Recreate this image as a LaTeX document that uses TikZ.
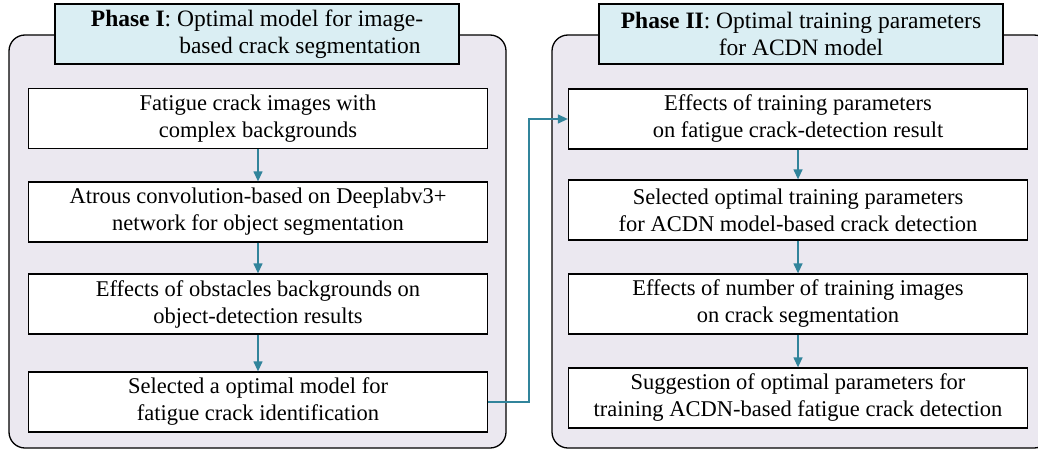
\documentclass[tikz,border=0pt]{standalone}
\usepackage{fontspec}
\setmainfont{Liberation Serif}
\usetikzlibrary{arrows.meta}
\definecolor{panelfill}{HTML}{EBE8F0}
\definecolor{titlefill}{HTML}{DAEEF3}
\definecolor{flowteal}{HTML}{31849B}

\begin{document}
\begin{tikzpicture}[x=1pt,y=-1pt,>={Triangle[length=10pt,width=9pt]},
  panel/.style={draw,line width=1.3pt,rounded corners=16pt,fill=panelfill},
  phasetitle/.style={draw,line width=1.3pt,fill=titlefill,minimum width=404pt,
    minimum height=60pt,align=center,font=\fontsize{23.5}{27}\selectfont},
  stage/.style={draw,line width=1.3pt,fill=white,minimum width=459pt,
    minimum height=60pt,align=center,font=\fontsize{22.5}{27}\selectfont},
  flow/.style={->,flowteal,line width=1.3pt}]
  \useasboundingbox (0,0) rectangle (1038,452);
  % phase I: model selection
  \begin{scope}
    \draw[panel] (9,35) rectangle (506,448);
    \node[phasetitle] (t1) at (257,34)
      {\textbf{Phase I}: Optimal model for image-\\\hspace*{86pt}based crack segmentation};
    \node[stage] (a1) at (258,118.5) {Fatigue crack images with\\complex backgrounds};
    \node[stage] (a2) at (258,212) {Atrous convolution-based on Deeplabv3+\\network for object segmentation};
    \node[stage] (a3) at (258,304) {Effects of obstacles backgrounds on\\object-detection results};
    \node[stage] (a4) at (258,402) {Selected a optimal model for\\fatigue crack identification};
    \foreach \u/\v in {a1/a2,a2/a3,a3/a4}
      \draw[flow] (\u) -- (\v);
  \end{scope}
  % phase II: training parameters
  \begin{scope}
    \draw[panel] (552,35) rectangle (1050,448);
    \node[phasetitle] (t2) at (801,34)
      {\textbf{Phase II}: Optimal training parameters\\for ACDN model};
    \node[stage] (b1) at (798,119) {Effects of training parameters\\on fatigue crack-detection result};
    \node[stage] (b2) at (798,210) {Selected optimal training parameters\\for ACDN model-based crack detection};
    \node[stage] (b3) at (798,304) {Effects of number of training images\\on crack segmentation};
    \node[stage] (b4) at (798,398) {Suggestion of optimal parameters for\\training ACDN-based fatigue crack detection};
    \foreach \u/\v in {b1/b2,b2/b3,b3/b4}
      \draw[flow] (\u) -- (\v);
  \end{scope}
  % hand-over from phase I to phase II
  \coordinate (turn) at (529,402);
  \draw[flow] (a4.east) -- (turn) |- (b1.west);
\end{tikzpicture}
\end{document}
